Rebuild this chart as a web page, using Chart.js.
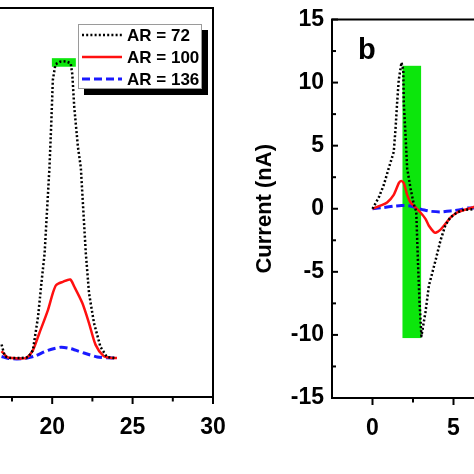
<!DOCTYPE html>
<html>
<head>
<meta charset="utf-8">
<script src="https://cdn.jsdelivr.net/npm/chart.js@4.4.0/dist/chart.umd.min.js"></script>
<style>
    html, body { margin: 0; padding: 0; background: #fff; width: 474px; height: 474px; overflow: hidden; position: relative; }
    #chartA { position: absolute; left: -60px; top: 0; }
    #chartB { position: absolute; left: 237px; top: 0; }
</style>
</head>
<body>
<canvas id="chartA" width="317" height="474"></canvas>
<canvas id="chartB" width="360" height="474"></canvas>
<script>
// Panel a (y axis is cut off in the source, values in arbitrary units)
const aX72 = [16.85, 17.05, 17.4, 18.0, 18.5, 18.8, 19.12, 19.33, 19.53, 19.83, 19.94, 20.04, 20.2, 20.5, 20.85, 21.15, 21.25, 21.37, 21.6, 21.78, 22.09, 22.29, 22.6, 23.0, 23.4, 23.93];
const aY72 = [13.5, 10.5, 10.0, 10.0, 10.2, 12.0, 20.6, 29.3, 37.0, 59.0, 70.0, 81.5, 85.5, 86.2, 86.3, 85.8, 83.0, 74.6, 64.3, 59.0, 37.0, 26.7, 19.0, 12.9, 10.3, 10.0];
const aX100 = [16.85, 17.18, 17.5, 18.0, 18.4, 18.8, 19.2, 19.74, 20.04, 20.25, 20.66, 21.12, 21.37, 21.88, 22.29, 22.7, 23.2, 23.6, 24.03];
const aY100 = [11.8, 10.3, 10.0, 9.9, 10.1, 12.0, 16.4, 22.4, 26.7, 28.8, 29.6, 30.2, 28.4, 24.1, 19.0, 13.4, 10.5, 10.1, 10.0];
const aX136 = [16.85, 17.3, 17.8, 18.3, 18.9, 19.74, 20.55, 21.17, 21.98, 22.8, 23.4, 23.9];
const aY136 = [10.4, 9.9, 9.8, 9.9, 10.5, 12.0, 12.8, 12.4, 11.3, 10.3, 10.1, 10.0];
const aGreenX = [19.98, 21.47];
const aGreenY = [84.9, 87.1];
const aXTicks = [15, 20, 25, 30];
const aXMinor = [17.5, 22.5, 27.5];

// Panel b
const bX72 = [0, 0.39, 0.7, 1.0, 1.31, 1.42, 1.52, 1.62, 1.79, 1.9, 1.93, 2.04, 2.14, 2.35, 2.55, 2.7, 2.82, 2.9, 3.02, 3.27, 3.48, 3.89, 4.2, 4.5, 4.8, 5.2, 5.6, 6.5, 7.0];
const bY72 = [0, 0.9, 1.9, 3.2, 4.5, 6.3, 8.4, 10.2, 11.6, 11.0, 8.4, 5.8, 3.2, 1.6, 0.35, -0.2, -4.7, -7.3, -10.1, -8.2, -6.1, -4.1, -2.5, -1.3, -0.7, -0.3, -0.1, 0, 0];
const bX100 = [0, 0.49, 0.9, 1.31, 1.63, 1.77, 1.93, 2.14, 2.35, 2.65, 2.96, 3.27, 3.48, 3.79, 3.9, 4.2, 4.5, 4.81, 5.23, 5.64, 6.15, 6.5, 7.0];
const bY100 = [0, 0.25, 0.5, 1.1, 2.05, 2.2, 2.05, 1.1, 0.5, 0.1, -0.3, -0.8, -1.35, -1.85, -1.9, -1.65, -1.2, -0.7, -0.3, -0.1, 0.1, 0.25, 0.3];
const bX136 = [0, 0.7, 1.31, 1.8, 2.04, 2.4, 2.76, 3.2, 3.58, 4.2, 4.6, 5.0, 5.5, 5.85, 6.5, 7.0];
const bY136 = [0, 0.1, 0.2, 0.25, 0.25, 0.2, 0.05, -0.1, -0.2, -0.25, -0.2, -0.15, -0.05, 0.05, 0.05, 0.05];
const bGreenX = [1.85, 3.0];
const bGreenY = [-10.25, 11.33];
const bXTicks = [0, 5, 10];
const bXMinor = [2.5, 7.5];
const bYTicks = [-15, -10, -5, 0, 5, 10, 15];
const bYMinor = [-12.5, -7.5, -2.5, 2.5, 7.5, 12.5];

const seriesLabels = ['AR = 72', 'AR = 100', 'AR = 136'];

const FONT = '"Liberation Sans", Arial, sans-serif';
Chart.defaults.font.family = FONT;
Chart.defaults.color = '#000';

const toPts = (xs, ys) => xs.map((x, i) => ({ x: x, y: ys[i] }));

// line styles shared by both panels
const styles = [
    { borderColor: '#000000', borderWidth: 2.5, borderDash: [2, 2.2], tension: 0 },
    { borderColor: '#ff1010', borderWidth: 2.5, borderDash: [], tension: 0.25 },
    { borderColor: '#1a1aff', borderWidth: 3, borderDash: [8, 4], tension: 0.25 }
];

function makeDatasets(xsList, ysList) {
    return xsList.map((xs, i) => Object.assign({
        label: seriesLabels[i],
        data: toPts(xs, ysList[i]),
        showLine: true,
        pointRadius: 0,
        fill: false,
        borderJoinStyle: 'round'
    }, styles[i]));
}

// green highlight rectangle, drawn under the curves
const greenBox = {
    id: 'greenBox',
    beforeDatasetsDraw(chart, args, opts) {
        const { ctx, scales } = chart;
        const x1 = scales.x.getPixelForValue(opts.xs[0]);
        const x2 = scales.x.getPixelForValue(opts.xs[1]);
        const y1 = scales.y.getPixelForValue(opts.ys[1]);
        const y2 = scales.y.getPixelForValue(opts.ys[0]);
        ctx.save();
        ctx.fillStyle = '#0ce60c';
        ctx.fillRect(x1, y1, x2 - x1, y2 - y1);
        ctx.restore();
    }
};

// frame + tick marks (x ticks outward, y ticks inward)
const axisDecor = {
    id: 'axisDecor',
    afterDatasetsDraw(chart, args, opts) {
        const { ctx, chartArea: ca, scales } = chart;
        ctx.save();
        ctx.strokeStyle = '#000';
        ctx.lineWidth = 2;
        ctx.strokeRect(ca.left, ca.top, ca.right - ca.left, ca.bottom - ca.top);
        const seg = (x1, y1, x2, y2) => {
            ctx.beginPath();
            ctx.moveTo(x1, y1);
            ctx.lineTo(x2, y2);
            ctx.stroke();
        };
        (opts.xMajor || []).forEach(v => {
            const x = scales.x.getPixelForValue(v);
            seg(x, ca.bottom, x, ca.bottom + 7);
        });
        (opts.xMinor || []).forEach(v => {
            const x = scales.x.getPixelForValue(v);
            seg(x, ca.bottom, x, ca.bottom + 4.5);
        });
        (opts.yMajor || []).forEach(v => {
            const y = scales.y.getPixelForValue(v);
            seg(ca.left, y, ca.left + 6, y);
        });
        (opts.yMinor || []).forEach(v => {
            const y = scales.y.getPixelForValue(v);
            seg(ca.left, y, ca.left + 4, y);
        });
        ctx.restore();
    }
};

// boxed legend with drop shadow (panel a)
const boxLegend = {
    id: 'boxLegend',
    afterDraw(chart) {
        const { ctx, chartArea: ca } = chart;
        const w = 124, h = 65;
        const left = ca.right - 11 - w;
        const top = ca.top + 16;
        ctx.save();
        ctx.fillStyle = '#000';
        ctx.fillRect(left + 6, top + 6, w, h);
        ctx.fillStyle = '#fff';
        ctx.fillRect(left, top, w, h);
        ctx.strokeStyle = '#9a9a9a';
        ctx.lineWidth = 1;
        ctx.strokeRect(left + 0.5, top + 0.5, w - 1, h - 1);
        ctx.font = 'bold 17px ' + FONT;
        ctx.textBaseline = 'middle';
        chart.data.datasets.forEach((ds, i) => {
            const y = top + 11 + i * 22;
            ctx.strokeStyle = ds.borderColor;
            ctx.lineWidth = ds.borderWidth;
            ctx.setLineDash(ds.borderDash);
            ctx.beginPath();
            ctx.moveTo(left + 4, y);
            ctx.lineTo(left + 44, y);
            ctx.stroke();
            ctx.setLineDash([]);
            ctx.fillStyle = '#000';
            ctx.fillText(ds.label, left + 49, y + 1);
        });
        ctx.restore();
    }
};

// panel letter
const panelLetter = {
    id: 'panelLetter',
    afterDraw(chart) {
        const { ctx, chartArea: ca } = chart;
        ctx.save();
        ctx.font = 'bold 29px ' + FONT;
        ctx.fillStyle = '#000';
        ctx.textBaseline = 'alphabetic';
        ctx.fillText('b', ca.left + 26, ca.top + 39);
        ctx.restore();
    }
};

const tickFont = { size: 23, weight: 'bold', lineHeight: 1 };

const chartA = new Chart(document.getElementById('chartA'), {
    type: 'scatter',
    data: { datasets: makeDatasets([aX72, aX100, aX136], [aY72, aY100, aY136]) },
    options: {
        responsive: false,
        animation: false,
        layout: { padding: { left: 30, right: 44, top: 8, bottom: 0 } },
        scales: {
            x: {
                type: 'linear',
                min: 15,
                max: 30,
                grid: { display: false, drawTicks: false },
                border: { display: false },
                ticks: { font: tickFont, padding: 19, maxRotation: 0 },
                afterBuildTicks: s => { s.ticks = aXTicks.map(v => ({ value: v })); },
                afterFit: s => { s.height = 77; }
            },
            y: { display: false, min: 0, max: 100 }
        },
        plugins: {
            legend: { display: false },
            tooltip: { enabled: false },
            greenBox: { xs: aGreenX, ys: aGreenY },
            axisDecor: { xMajor: aXTicks, xMinor: aXMinor }
        }
    },
    plugins: [greenBox, axisDecor, boxLegend]
});

const chartB = new Chart(document.getElementById('chartB'), {
    type: 'scatter',
    data: { datasets: makeDatasets([bX72, bX100, bX136], [bY72, bY100, bY136]) },
    options: {
        responsive: false,
        animation: false,
        layout: { padding: { left: 0, right: 22, top: 11, bottom: 0 } },
        scales: {
            x: {
                type: 'linear',
                min: -2.5,
                max: 12.5,
                grid: { display: false, drawTicks: false },
                border: { display: false },
                ticks: { font: tickFont, padding: 19, maxRotation: 0 },
                afterBuildTicks: s => { s.ticks = bXTicks.map(v => ({ value: v })); },
                afterFit: s => { s.height = 76; }
            },
            y: {
                type: 'linear',
                min: -15,
                max: 15,
                grid: { display: false, drawTicks: false },
                border: { display: false },
                ticks: { font: tickFont, padding: 8 },
                afterBuildTicks: s => { s.ticks = bYTicks.map(v => ({ value: v })); },
                afterFit: s => { s.width = 95; },
                title: {
                    display: true,
                    text: 'Current (nA)',
                    font: { size: 22, weight: 'bold' },
                    padding: { top: 15, bottom: 0 }
                }
            }
        },
        plugins: {
            legend: { display: false },
            tooltip: { enabled: false },
            greenBox: { xs: bGreenX, ys: bGreenY },
            axisDecor: { xMajor: bXTicks, xMinor: bXMinor, yMajor: bYTicks, yMinor: bYMinor }
        }
    },
    plugins: [greenBox, axisDecor, panelLetter]
});
</script>
</body>
</html>
